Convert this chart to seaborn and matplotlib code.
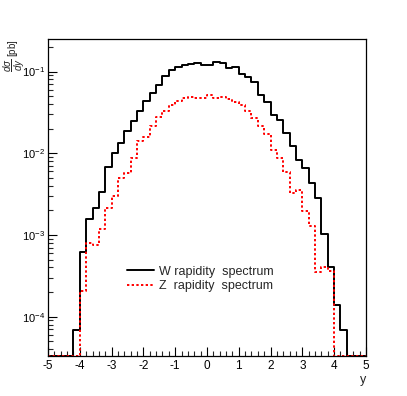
import numpy as np
import pandas as pd
import matplotlib
matplotlib.use("Agg")
import matplotlib.pyplot as plt
import matplotlib.ticker as mticker
import seaborn as sns

# rapidity binning: 50 bins from -5 to 5
bin_edges = np.linspace(-5, 5, 51)

# d(sigma)/dy per bin [pb]
w_xsec = [0, 0, 0, 0, 6.8e-5, 6.1e-4, 1.55e-3, 2.12e-3, 3.35e-3, 6.7e-3,
          0.0100, 0.0134, 0.0185, 0.0245, 0.0325, 0.043, 0.0545, 0.0675, 0.087, 0.103,
          0.115, 0.120, 0.123, 0.127, 0.120, 0.120, 0.130, 0.128, 0.109, 0.115,
          0.094, 0.085, 0.075, 0.051, 0.042, 0.029, 0.0257, 0.0177, 0.0124, 0.0082,
          0.0066, 0.00435, 0.00286, 0.00102, 4.1e-4, 1.39e-4, 6.8e-5, 0, 0, 0]
z_xsec = [0, 0, 0, 0, 0, 2.07e-4, 8.0e-4, 7.5e-4, 1.17e-3, 2.16e-3,
          3.0e-3, 5.0e-3, 5.8e-3, 8.8e-3, 0.0140, 0.0157, 0.0213, 0.0275, 0.0325, 0.0385,
          0.043, 0.048, 0.049, 0.047, 0.048, 0.051, 0.047, 0.049, 0.046, 0.042,
          0.0385, 0.033, 0.027, 0.0213, 0.0174, 0.011, 0.0088, 0.0059, 0.0033, 0.0035,
          0.00196, 0.00129, 3.5e-4, 4.1e-4, 3.6e-4, 0, 0, 0, 0, 0]
labels = ["W rapidity  spectrum", "Z  rapidity  spectrum"]

y_min, y_max = 3.3e-5, 0.25

sns.set_theme(style="ticks")
plt.rcParams['font.family'] = ['Liberation Sans', 'DejaVu Sans']
plt.rcParams['mathtext.fontset'] = 'custom'
plt.rcParams['mathtext.rm'] = 'Liberation Sans'
plt.rcParams['mathtext.it'] = 'Liberation Sans:italic'
plt.rcParams['axes.unicode_minus'] = False


def step_frame(vals):
    # empty bins sit on the bottom of the frame, like ROOT draws them
    v = np.maximum(np.asarray(vals, dtype=float), y_min)
    return pd.DataFrame({"y": bin_edges, "xsec": np.append(v, v[-1])})


fig = plt.figure(figsize=(4.07, 3.96), dpi=100)
ax = fig.add_axes([0.118, 0.101, 0.781, 0.8005])

sns.lineplot(data=step_frame(w_xsec), x="y", y="xsec", ax=ax, color="black",
             lw=1.4, drawstyle="steps-post", estimator=None, sort=False,
             label=labels[0])
sns.lineplot(data=step_frame(z_xsec), x="y", y="xsec", ax=ax, color="#ff0000",
             lw=1.4, linestyle=(0, (1.2, 1.2)), drawstyle="steps-post",
             estimator=None, sort=False, label=labels[1])

ax.set_yscale("log")
ax.set_xlim(-5, 5)
ax.set_ylim(y_min, y_max)

ax.xaxis.set_major_locator(mticker.MultipleLocator(1))
ax.xaxis.set_minor_locator(mticker.MultipleLocator(0.2))
ax.yaxis.set_major_locator(mticker.LogLocator(base=10))
ax.yaxis.set_minor_locator(mticker.LogLocator(base=10, subs=np.arange(2, 10)))
ax.yaxis.set_minor_formatter(mticker.NullFormatter())

ax.tick_params(which="major", direction="in", length=6.5, width=0.8,
               top=False, right=False, labelsize=8.5, pad=3, colors="black")
ax.tick_params(axis="y", which="major", pad=2, labelsize=8)
ax.tick_params(which="minor", direction="in", length=3.3, width=0.8,
               top=False, right=False)
for side in ["left", "bottom", "top", "right"]:
    ax.spines[side].set_visible(True)
    ax.spines[side].set_color("black")
    ax.spines[side].set_linewidth(0.9)

ax.set_xlabel("y", loc="right", fontsize=9, labelpad=1)
ax.set_ylabel(r"$\dfrac{d\sigma}{dy}$ [pb]", loc="top", fontsize=7, va="top")
ax.yaxis.set_label_coords(-0.146, 1.0)

ax.legend(frameon=False, loc="center left", bbox_to_anchor=(0.25, 0.243),
          handlelength=2.15, handletextpad=0.4, labelspacing=0.2, fontsize=9,
          borderaxespad=0, borderpad=0)

fig.savefig("out.png", dpi=100)
